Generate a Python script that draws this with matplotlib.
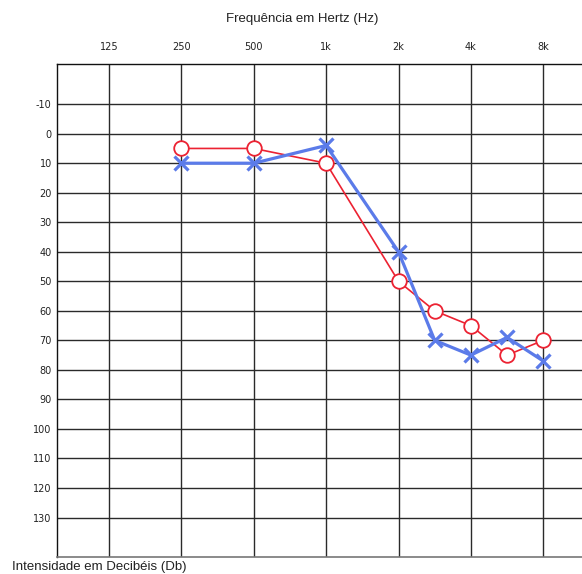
import numpy as np
import matplotlib
matplotlib.use("Agg")
import matplotlib.pyplot as plt

# ---- data ----
octave_freqs = [125, 250, 500, 1000, 2000, 4000, 8000]
octave_labels = ["125", "250", "500", "1k", "2k", "4k", "8k"]
db_ticks = list(range(-10, 140, 10))

freqs = [250, 500, 1000, 2000, 3000, 4000, 6000, 8000]
red_db = [5, 5, 10, 50, 60, 65, 75, 70]      # circles
blue_db = [10, 10, 4, 40, 70, 75, 69, 77]    # crosses

title_text = "Frequência em Hertz (Hz)"
ylabel_text = "Intensidade em Decibéis (Db)"

# ---- audiogram frequency scale: octaves equally spaced, half-octaves at midpoints ----
OCT = np.array(octave_freqs, dtype=float)
IDX = np.arange(len(OCT), dtype=float)


def fwd(f):
    f = np.asarray(f, dtype=float)
    fs = np.clip(f, 1e-9, None)
    inside = np.interp(fs, OCT, IDX)
    below = np.log2(fs / OCT[0])
    above = IDX[-1] + np.log2(fs / OCT[-1])
    return np.where(fs < OCT[0], below, np.where(fs > OCT[-1], above, inside))


def inv(p):
    p = np.asarray(p, dtype=float)
    inside = np.interp(p, IDX, OCT)
    below = OCT[0] * 2.0 ** p
    above = OCT[-1] * 2.0 ** (p - IDX[-1])
    return np.where(p < 0, below, np.where(p > IDX[-1], above, inside))


W, H = 582, 574
fig = plt.figure(figsize=(W / 100, H / 100), dpi=100)
fig.patch.set_facecolor("white")

left_px, right_px, top_px, bottom_px = 57.3, 582, 64.3, 556.5
ax = fig.add_axes([left_px / W, 1 - bottom_px / H,
                   (right_px - left_px) / W, (bottom_px - top_px) / H])

ax.set_xscale("function", functions=(fwd, inv))
ax.set_xlim(inv(-0.714), inv(6.535))
ax.set_ylim(143.2, -23.5)

ax.set_xticks(octave_freqs)
ax.set_xticklabels(octave_labels)
ax.xaxis.set_minor_locator(matplotlib.ticker.NullLocator())
ax.xaxis.tick_top()
ax.set_yticks(db_ticks)
ax.set_yticklabels([str(v) for v in db_ticks])
ax.tick_params(axis="x", length=0, pad=9, labelsize=7, labelcolor="#222222")
ax.tick_params(axis="y", length=0, pad=4, labelsize=7, labelcolor="#222222")

ax.grid(True, color="#2a2a2a", linewidth=1.0)
ax.set_axisbelow(True)
for side in ["left", "top"]:
    ax.spines[side].set_color("#111111")
    ax.spines[side].set_linewidth(1.0)
ax.spines["bottom"].set_color("#777777")
ax.spines["bottom"].set_linewidth(1.2)
ax.spines["right"].set_visible(False)

red = "#ec2232"
blue = "#5b7be9"
ax.plot(freqs, red_db, color=red, linewidth=1.2, marker="o", markersize=10.5,
        markerfacecolor="white", markeredgecolor=red, markeredgewidth=1.3, zorder=3)
ax.plot(freqs, blue_db, color=blue, linewidth=2.3, marker="x", markersize=10,
        markeredgewidth=2.3, markeredgecolor=blue, zorder=4)

fig.text(302 / W, 1 - 19 / H, title_text, ha="center", va="center",
         fontsize=9.5, family="Liberation Sans", color="#222222")
fig.text(12 / W, 1 - 567 / H, ylabel_text, ha="left", va="center",
         fontsize=9.5, family="Liberation Sans", color="#222222")

fig.savefig("out.png", dpi=100, facecolor="white")
